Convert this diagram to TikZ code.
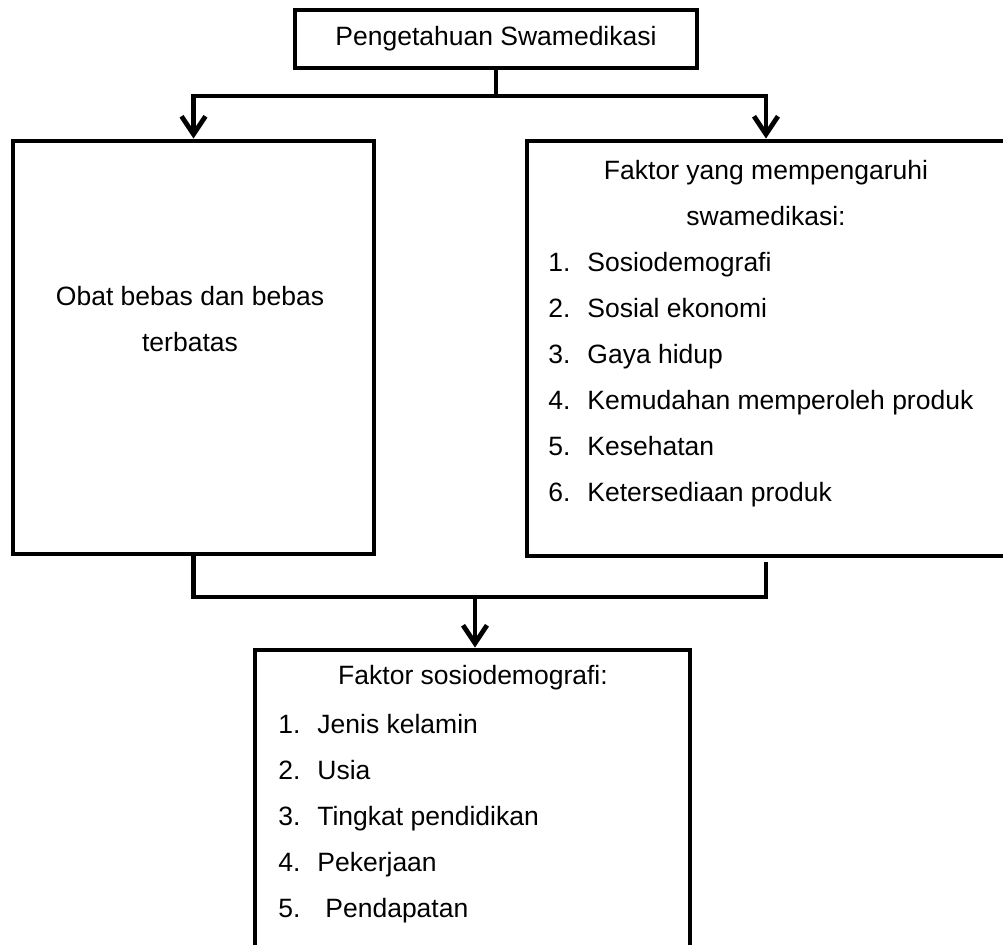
\documentclass[tikz,border=0pt]{standalone}
\usepackage{fontspec}
\setmainfont{Liberation Sans}
\usetikzlibrary{arrows.meta, positioning, calc}
\newcommand{\diagFont}{\fontsize{13.25}{16}\selectfont}
\tikzset{
    flowBox/.style={rectangle, draw, line width=2.4pt, inner sep=0pt, font=\diagFont},
    txt/.style={inner sep=0pt, anchor=base, font=\diagFont},
    itemTxt/.style={txt, anchor=base west},
    flowLine/.style={line width=2.4pt},
    flowArrow/.style={flowLine, -{Straight Barb[length=9pt, width=12pt]}},
}
\begin{document}
\begin{tikzpicture}[x=0.5pt, y=-0.5pt]
    \useasboundingbox (0,0) rectangle (1003,945);

    % kotak
    \node[flowBox, minimum width=201pt, minimum height=29pt] (top) at (496,39) {Pengetahuan Swamedikasi};
    \node[flowBox, minimum width=180.5pt, minimum height=206.5pt] (obat) at (193.5,347.5) {};
    \node[flowBox, minimum width=239pt, minimum height=207.5pt] (faktor) at (766,348.5) {};
    \node[flowBox, minimum width=217.5pt, minimum height=155pt] (sosio) at (472.5,805) {};

    % isi kotak kiri
    \node[txt] (obat1) at (190,306) {Obat bebas dan bebas};
    \node[txt] (obat2) at (190,352) {terbatas};

    % isi kotak kanan
    \node[txt] (fk1) at (766,180) {Faktor yang mempengaruhi};
    \node[txt] (fk2) at (766,226) {swamedikasi:};
    \foreach \n/\t in {1/Sosiodemografi, 2/Sosial ekonomi, 3/Gaya hidup,
                       4/Kemudahan memperoleh produk, 5/Kesehatan, 6/Ketersediaan produk} {
        \node[itemTxt] (fkn\n) at (548, 226+46*\n) {\n.};
        \node[itemTxt] (fkt\n) at (587, 226+46*\n) {\t};
    }

    % isi kotak bawah
    \node[txt] (ss0) at (473,685) {Faktor sosiodemografi:};
    \foreach \n/\xt/\t in {1/317/Jenis kelamin, 2/317/Usia, 3/317/Tingkat pendidikan,
                           4/317/Pekerjaan, 5/325/Pendapatan} {
        \node[itemTxt] (ssn\n) at (278, 688+46*\n) {\n.};
        \node[itemTxt] (sst\n) at (\xt, 688+46*\n) {\t};
    }

    % garis penghubung
    \coordinate (split) at (496,96);
    \coordinate (join) at (475,597);
    \draw[flowLine] (top.south) -- (split);
    \draw[flowArrow] (split) -| (obat.north);
    \draw[flowArrow] (split) -| (faktor.north);
    \draw[flowLine] (obat.south) |- (join);
    \draw[flowLine] ([yshift=-2pt]faktor.south) |- (join);
    \draw[flowArrow] (join) -- (join |- sosio.north);

\end{tikzpicture}
\end{document}
